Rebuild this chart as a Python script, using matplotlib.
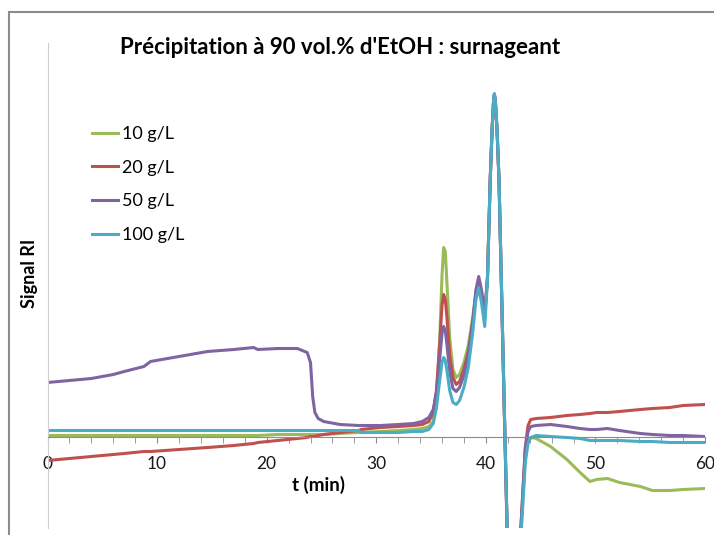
import matplotlib
matplotlib.use("Agg")
import matplotlib.pyplot as plt
from matplotlib.patches import Rectangle

plt.rcParams['font.family'] = ['Lato', 'DejaVu Sans']

# temps (min)
t = [0, 2, 4, 6, 7, 8.8, 9.4, 12, 14.6, 17, 18.8, 19.2, 21, 22.8, 23.7, 24.0, 24.2, 24.4, 24.7, 25.2,
     26.7, 28.4, 28.6, 30.4, 32, 33.4, 34.2, 34.8,
     35.2, 35.5, 35.8, 36.0, 36.15, 36.3, 36.45, 36.7, 37.0, 37.3, 37.6, 38.0, 38.4, 38.8, 39.1, 39.35, 39.6, 39.9,
     40.15, 40.4, 40.57, 40.7, 40.78, 40.87, 41.02, 41.2, 41.41, 41.69, 41.95, 42.5, 43.2, 43.6, 43.85, 44.1,
     44.6, 45.9, 47.4, 48.6, 49.5, 50.1, 51.1, 52.2, 54.1, 55.2, 56.8, 58, 60]

g10 = [0.02, 0.02, 0.02, 0.02, 0.02, 0.02, 0.02, 0.02, 0.02, 0.02, 0.02, 0.02, 0.03, 0.03, 0.03, 0.03, 0.03, 0.03, 0.03, 0.03,
       0.04, 0.05, 0.05, 0.06, 0.07, 0.08, 0.09, 0.11,
       0.16, 0.42, 1.0, 1.62, 1.90, 1.86, 1.55, 1.0, 0.68, 0.60, 0.63, 0.75, 0.92, 1.2, 1.45, 1.55, 1.42, 1.2,
       1.6, 2.58, 3.08, 3.35, 3.43, 3.36, 3.08, 2.58, 1.58, 0.25, -0.95, -2.5, -0.95, -0.2, -0.04, 0.0,
       -0.01, -0.09, -0.22, -0.35, -0.44, -0.42, -0.41, -0.45, -0.49, -0.53, -0.53, -0.52, -0.51]

g20 = [-0.23, -0.21, -0.19, -0.17, -0.16, -0.14, -0.14, -0.12, -0.10, -0.08, -0.06, -0.05, -0.03, -0.01, 0.0, 0.01, 0.01, 0.01, 0.02, 0.03,
       0.05, 0.07, 0.08, 0.10, 0.11, 0.12, 0.13, 0.16,
       0.25, 0.48, 0.95, 1.32, 1.43, 1.38, 1.2, 0.82, 0.6, 0.53, 0.56, 0.68, 0.86, 1.15, 1.42, 1.53, 1.42, 1.2,
       1.6, 2.58, 3.08, 3.35, 3.43, 3.36, 3.08, 2.58, 1.58, 0.25, -0.95, -2.5, -0.9, -0.1, 0.12, 0.18,
       0.19, 0.2, 0.22, 0.23, 0.24, 0.25, 0.25, 0.26, 0.28, 0.29, 0.3, 0.32, 0.33]

g50 = [0.55, 0.57, 0.59, 0.63, 0.66, 0.71, 0.76, 0.81, 0.86, 0.88, 0.90, 0.88, 0.89, 0.89, 0.85, 0.75, 0.41, 0.25, 0.19, 0.16,
       0.13, 0.12, 0.12, 0.12, 0.13, 0.14, 0.16, 0.2,
       0.28, 0.45, 0.8, 1.04, 1.11, 1.07, 0.93, 0.66, 0.49, 0.46, 0.5, 0.62, 0.82, 1.15, 1.48, 1.61, 1.48, 1.25,
       1.6, 2.58, 3.08, 3.35, 3.43, 3.36, 3.08, 2.58, 1.58, 0.25, -0.95, -2.5, -0.9, -0.12, 0.06, 0.11,
       0.12, 0.13, 0.11, 0.09, 0.08, 0.08, 0.09, 0.07, 0.04, 0.03, 0.02, 0.02, 0.01]

g100 = [0.07, 0.07, 0.07, 0.07, 0.07, 0.07, 0.07, 0.07, 0.07, 0.07, 0.07, 0.07, 0.07, 0.07, 0.07, 0.07, 0.07, 0.07, 0.07, 0.07,
        0.07, 0.07, 0.05, 0.05, 0.05, 0.06, 0.06, 0.08,
        0.14, 0.3, 0.58, 0.75, 0.80, 0.77, 0.67, 0.47, 0.35, 0.33, 0.37, 0.5, 0.7, 1.05, 1.38, 1.5, 1.35, 1.11,
        1.58, 2.58, 3.08, 3.36, 3.44, 3.37, 3.1, 2.6, 1.6, 0.28, -0.9, -2.5, -1.0, -0.25, -0.06, 0.0,
        0.02, 0.01, 0.0, -0.01, -0.03, -0.03, -0.03, -0.03, -0.04, -0.04, -0.05, -0.05, -0.05]

labels = ['10 g/L', '20 g/L', '50 g/L', '100 g/L']
colors = ['#9BBB59', '#C0504D', '#8064A2', '#4BACC6']

fig = plt.figure(figsize=(7.14, 5.35), dpi=100)
ax = fig.add_axes([47.5 / 714, 1 - 528 / 535, (705 - 47.5) / 714, (528 - 43) / 535])

for y, lab, c in zip([g10, g20, g50, g100], labels, colors):
    ax.plot(t, y, color=c, lw=2.2, label=lab)

ax.set_xlim(0, 60)
ax.set_ylim(-0.905, 3.945)

ax.spines['top'].set_visible(False)
ax.spines['right'].set_visible(False)
ax.spines['left'].set_color('#cfcfcf')
ax.spines['bottom'].set_position(('data', 0))
ax.spines['bottom'].set_color('#8c8c8c')
ax.set_yticks([])
ax.set_xticks(range(0, 61, 10))
ax.set_xticks(range(0, 61, 2), minor=True)
ax.tick_params(axis='x', which='both', direction='out', length=4, color='#8c8c8c',
               labelsize=12.5, pad=9, labelcolor='#1a1a1a')

fig.text(30 / 714, 1 - 273 / 535, 'Signal RI', rotation=90, ha='center', va='center',
         fontsize=13, fontweight='bold')
fig.text(319 / 714, 1 - 485 / 535, 't (min)', ha='center', va='center',
         fontsize=13.5, fontweight='bold')
fig.text(340 / 714, 1 - 48 / 535, "Précipitation à 90 vol.% d'EtOH : surnageant",
         ha='center', va='center', fontsize=16, fontweight='bold')

ax.legend(loc='upper left', bbox_to_anchor=(92 / 714, 1 - 126 / 535), bbox_transform=fig.transFigure,
          frameon=False, fontsize=13, handlelength=1.45, handletextpad=0.2, labelspacing=0.98,
          borderpad=0, borderaxespad=0)

fig.add_artist(Rectangle((9 / 714, -0.1), 1.2, 1 - 11.7 / 535 + 0.1, transform=fig.transFigure,
                         fill=False, edgecolor='#8c8c8c', lw=1.5))

plt.savefig('out.png', dpi=100)
